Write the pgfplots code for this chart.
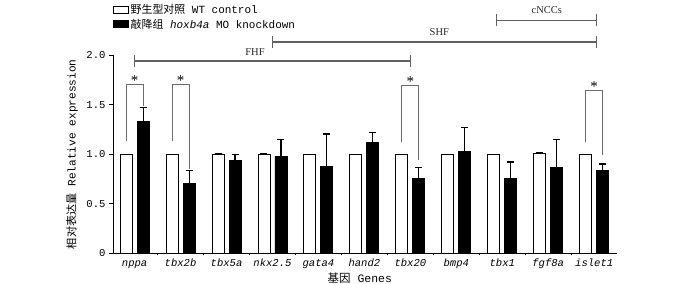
\documentclass[border=0pt]{standalone}
\usepackage{fontspec}
\setmainfont{Liberation Mono}
\newfontfamily\cjk{Noto Sans CJK SC}
\newfontfamily\tnr{Liberation Serif}
\usepackage{pgfplots}
\pgfplotsset{compat=1.18}
\definecolor{brk}{rgb}{0.42,0.42,0.42}
\definecolor{grp}{rgb}{0.38,0.38,0.38}
\pgfplotsset{boxlegend/.style={legend image code/.code={\draw[##1,line width=0.9bp] (0bp,-3.5bp) rectangle (15bp,3.5bp);}}}
\begin{document}
\begin{tikzpicture}
\begin{axis}[
  scale only axis, width=503.7bp, height=198.3bp,
  xmin=-0.47, xmax=10.49, ymin=0, ymax=2,
  axis lines*=left, axis line style={line width=0.9bp},
  clip=false,
  ybar=5bp, bar width=12bp,
  xtick={0,1,2,3,4,5,6,7,8,9,10},
  xticklabels={\textit{nppa},\textit{tbx2b},\textit{tbx5a},\textit{nkx2.5},\textit{gata4},\textit{hand2},\textit{tbx20},\textit{bmp4},\textit{tbx1},\textit{fgf8a},\textit{islet1}},
  minor xtick={0.5,1.5,2.5,3.5,4.5,5.5,6.5,7.5,8.5,9.5},
  major x tick style={draw=none},
  ytick={0,0.5,1,1.5,2},
  yticklabels={0,0.5,1.0,1.5,2.0},
  tick align=outside, major tick length=4bp, minor tick length=2bp,
  tick style={black, line width=0.8bp},
  ticklabel style={font=\fontsize{10.6}{12}\selectfont},
  xticklabel style={anchor=base, yshift=-9bp},
  ylabel={{\cjk 相对表达量} Relative expression},
  ylabel style={at={(axis description cs:-0.0814,0.5)}, anchor=center, font=\fontsize{11.2}{12}\selectfont},
  xlabel={{\cjk 基因} Genes},
  xlabel style={at={(axis description cs:0.49,-0.1245)}, anchor=center, font=\fontsize{11.5}{12}\selectfont},
  legend style={at={(axis description cs:0,1.262)}, anchor=north west, draw=none, fill=none, inner sep=0pt, row sep=0.5bp, font=\fontsize{11}{12}\selectfont, nodes={inner sep=1.5bp}},
  legend cell align=left,
]
\addplot[fill=white, draw=black, line width=0.9bp, boxlegend,
  error bars/.cd, y dir=plus, y explicit,
  error mark options={rotate=90, mark size=3.5bp, line width=1.1bp, black},
  error bar style={line width=1.1bp, black}]
coordinates {
  (0,1.0) +- (0,0)
  (1,1.0) +- (0,0)
  (2,1.0) +- (0,0.005)
  (3,1.0) +- (0,0.005)
  (4,1.0) +- (0,0)
  (5,1.0) +- (0,0)
  (6,1.0) +- (0,0)
  (7,1.0) +- (0,0)
  (8,1.0) +- (0,0)
  (9,1.005) +- (0,0.01)
  (10,1.0) +- (0,0)
};
\addlegendentry{{\cjk 野生型对照} WT control}
\addplot[fill=black, draw=black, line width=0.9bp, boxlegend,
  error bars/.cd, y dir=plus, y explicit,
  error mark options={rotate=90, mark size=3.5bp, line width=1.1bp, black},
  error bar style={line width=1.1bp, black}]
coordinates {
  (0,1.328) +- (0,0.144)
  (1,0.706) +- (0,0.128)
  (2,0.941) +- (0,0.051)
  (3,0.975) +- (0,0.171)
  (4,0.874) +- (0,0.329)
  (5,1.119) +- (0,0.101)
  (6,0.756) +- (0,0.105)
  (7,1.029) +- (0,0.242)
  (8,0.756) +- (0,0.165)
  (9,0.864) +- (0,0.282)
  (10,0.840) +- (0,0.061)
};
\addlegendentry{{\cjk 敲降组} \textit{hoxb4a} MO knockdown}
% significance brackets
\draw[brk, line width=0.8bp] (axis cs:-0.185,1.13) |- (axis cs:0.185,1.70) -- (axis cs:0.185,1.49);
\draw[brk, line width=0.8bp] (axis cs:0.815,1.13) |- (axis cs:1.185,1.70) -- (axis cs:1.185,0.85);
\draw[brk, line width=0.8bp] (axis cs:5.815,1.12) |- (axis cs:6.185,1.69) -- (axis cs:6.185,0.94);
\draw[brk, line width=0.8bp] (axis cs:9.815,1.12) |- (axis cs:10.185,1.644) -- (axis cs:10.185,0.99);
\node[font=\tnr\fontsize{15}{15}\selectfont] at (axis cs:0,1.74) {*};
\node[font=\tnr\fontsize{15}{15}\selectfont] at (axis cs:1,1.74) {*};
\node[font=\tnr\fontsize{15}{15}\selectfont] at (axis cs:6,1.73) {*};
\node[font=\tnr\fontsize{15}{15}\selectfont] at (axis cs:10,1.685) {*};
% group lines
\draw[grp, line width=1.3bp] (axis cs:0,1.94) -- (axis cs:6,1.94);
\draw[grp, line width=1.3bp] (axis cs:0,1.88) -- (axis cs:0,2.0);
\draw[grp, line width=1.3bp] (axis cs:6,1.88) -- (axis cs:6,2.0);
\node[font=\tnr\fontsize{10.5}{12}\selectfont, text=black!85] at (axis cs:2.62,2.03) {FHF};
\draw[grp, line width=1.3bp] (axis cs:3,2.13) -- (axis cs:10.05,2.13);
\draw[grp, line width=1.3bp] (axis cs:3,2.07) -- (axis cs:3,2.19);
\draw[grp, line width=1.3bp] (axis cs:10.05,2.07) -- (axis cs:10.05,2.19);
\node[font=\tnr\fontsize{10.5}{12}\selectfont, text=black!85] at (axis cs:6.63,2.23) {SHF};
\draw[grp, line width=1.3bp] (axis cs:7.88,2.35) -- (axis cs:10.05,2.35);
\draw[grp, line width=1.3bp] (axis cs:7.88,2.29) -- (axis cs:7.88,2.41);
\draw[grp, line width=1.3bp] (axis cs:10.05,2.29) -- (axis cs:10.05,2.41);
\node[font=\tnr\fontsize{10.5}{12}\selectfont, text=black!85] at (axis cs:8.97,2.45) {cNCCs};
\end{axis}
\pgfresetboundingbox
\path (current axis.south west) ++(-113bp,-30.7bp) rectangle ++(700bp,284bp);
\end{tikzpicture}
\end{document}
